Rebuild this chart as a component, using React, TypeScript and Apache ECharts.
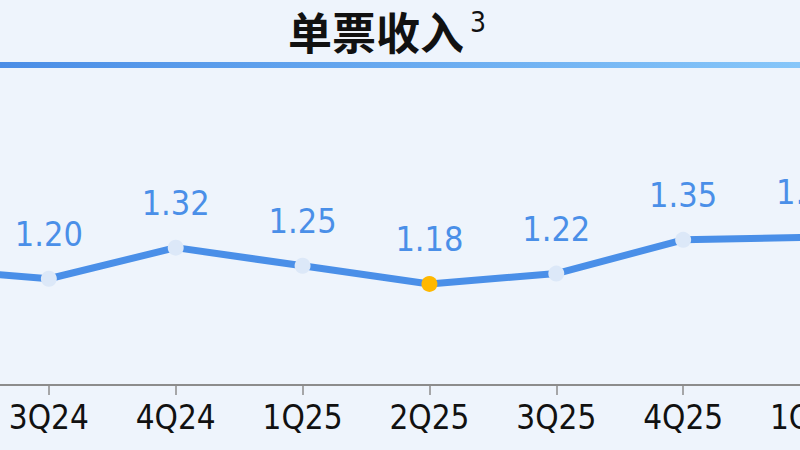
import { useEffect, useRef } from 'react';
import * as echarts from 'echarts';

// quarters on the x axis (the first and last sit just outside the visible area)
const quarters = ['2Q24', '3Q24', '4Q24', '1Q25', '2Q25', '3Q25', '4Q25', '1Q26'];
// revenue per ticket
const ticketRevenue = [1.24, 1.2, 1.32, 1.25, 1.18, 1.22, 1.35, 1.36];
// quarter whose marker is highlighted
const highlightQuarter = '2Q25';
// quarter that lies off the left edge, its texts are not drawn
const hiddenQuarter = '2Q24';

const titleText = '单票收入';
const titleNote = '3';

const BLUE = '#4a8fe8';
const NARROW = "'Liberation Sans Narrow', 'DejaVu Sans Condensed', 'Liberation Sans', sans-serif";

export default function App() {
  const chartRef = useRef<HTMLDivElement>(null);

  useEffect(() => {
    document.body.style.margin = '0';
    if (!chartRef.current) {
      return;
    }
    const chart = echarts.init(chartRef.current, null, { renderer: 'svg' });

    const seriesData = ticketRevenue.map((v, i) => ({
      value: v,
      itemStyle: {
        color: quarters[i] === highlightQuarter ? '#ffb800' : '#dce8f8',
      },
      label: { show: quarters[i] !== hiddenQuarter },
    }));

    const option: echarts.EChartsOption = {
      animation: false,
      backgroundColor: '#eef4fc',
      graphic: [
        {
          type: 'rect',
          left: 0,
          top: 62,
          shape: { width: 800, height: 6 },
          style: {
            fill: new echarts.graphic.LinearGradient(0, 0, 1, 0, [
              { offset: 0, color: '#4a8de6' },
              { offset: 1, color: '#86c6f9' },
            ]),
          },
        },
        {
          type: 'text',
          x: 376,
          y: 31,
          style: {
            text: titleText,
            fill: '#111111',
            font: "bold 44px 'Noto Sans CJK SC', sans-serif",
            textAlign: 'center',
            textVerticalAlign: 'middle',
          },
        },
        {
          type: 'text',
          x: 470,
          y: 8,
          style: {
            text: titleNote,
            fill: '#111111',
            font: `28px ${NARROW}`,
            textAlign: 'left',
            textVerticalAlign: 'top',
          },
        },
      ],
      grid: {
        left: -78,
        right: -10,
        top: 201,
        bottom: 65,
        containLabel: false,
        outerBoundsMode: 'none',
      } as any,
      xAxis: {
        type: 'category',
        data: quarters,
        boundaryGap: false,
        axisLine: { lineStyle: { color: '#8c8c8c', width: 2 } },
        axisTick: { length: 10, lineStyle: { color: '#8c8c8c', width: 1.5 } },
        axisLabel: {
          color: '#111111',
          fontSize: 33,
          fontFamily: NARROW,
          margin: 16,
          interval: 0,
          hideOverlap: false,
          formatter: (v: string) => (v === hiddenQuarter ? '' : v),
        },
      },
      yAxis: {
        type: 'value',
        min: 0.79,
        max: 1.5,
        show: false,
        splitLine: { show: false },
      },
      series: [
        {
          type: 'line',
          data: seriesData,
          symbol: 'circle',
          symbolSize: 16,
          clip: false,
          lineStyle: { color: BLUE, width: 7 },
          label: {
            show: true,
            position: 'top',
            distance: 20,
            color: BLUE,
            fontSize: 34,
            fontFamily: NARROW,
            formatter: (p: any) => Number(p.value).toFixed(2),
          },
        },
      ],
    };

    chart.setOption(option);
    return () => {
      chart.dispose();
    };
  }, []);

  return <div ref={chartRef} style={{ width: '800px', height: '450px' }} />;
}
